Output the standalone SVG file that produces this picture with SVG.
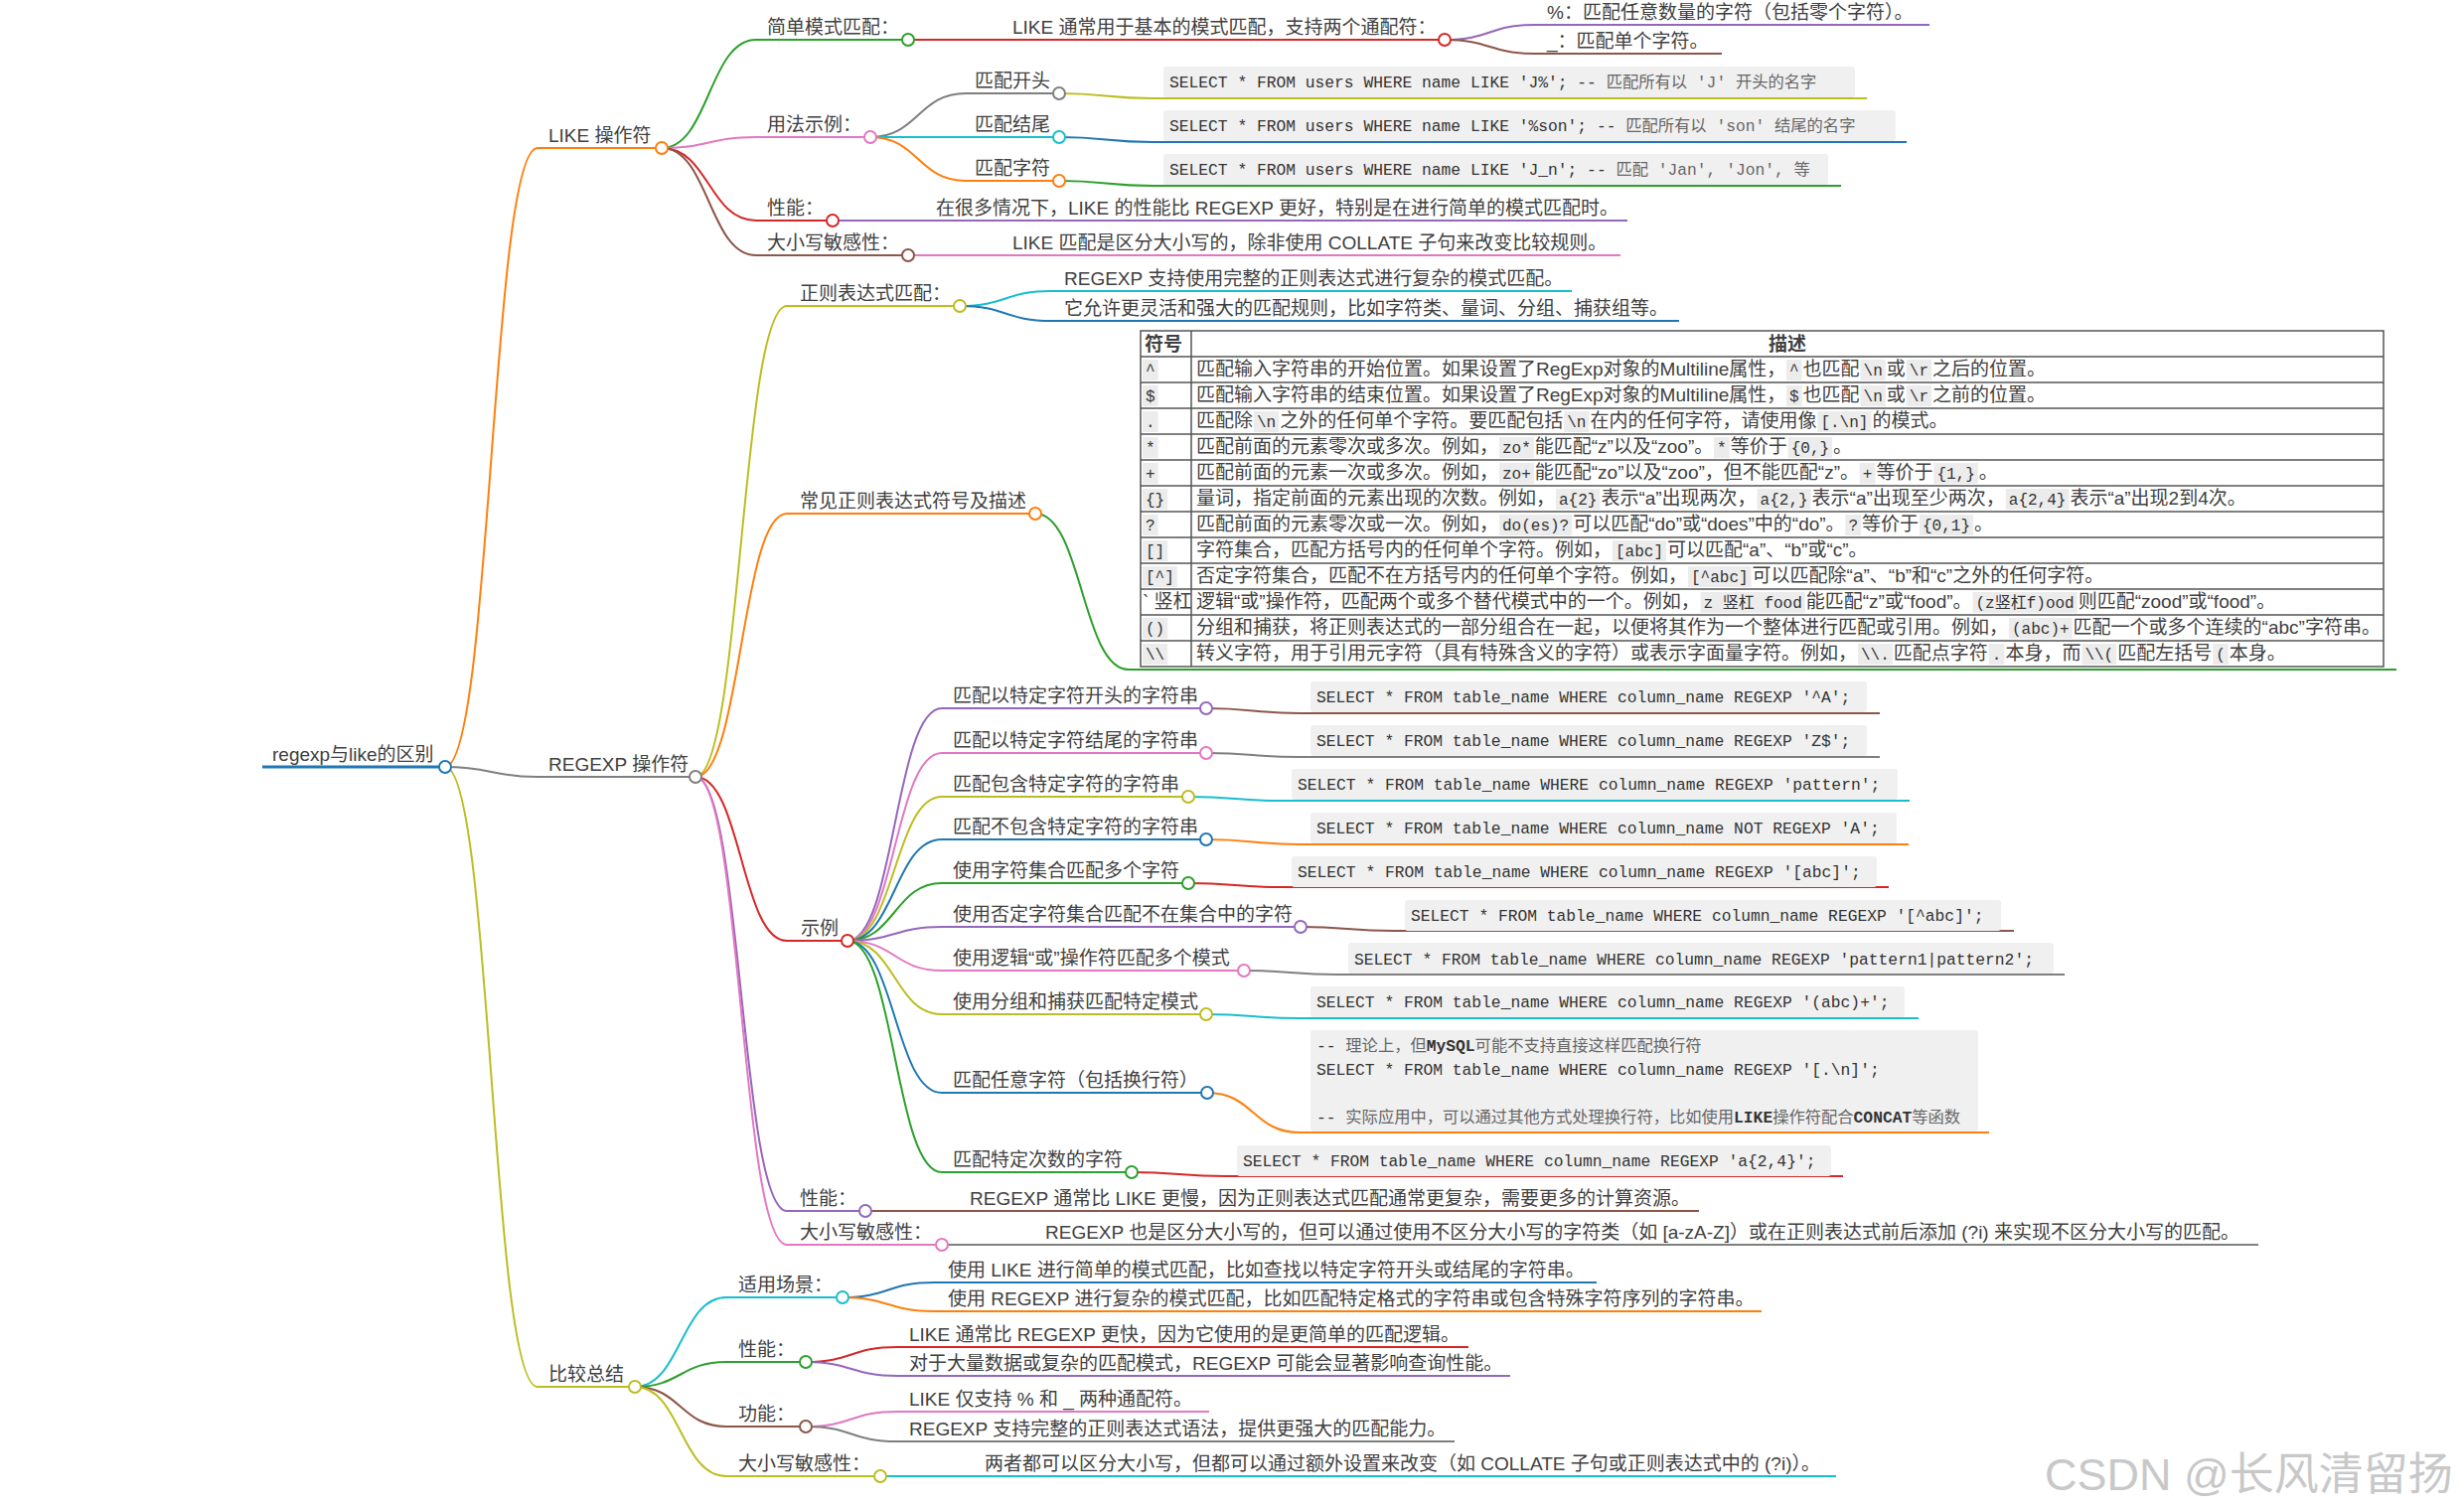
<svg xmlns="http://www.w3.org/2000/svg" width="2480" height="1516" viewBox="0 0 2480 1516">
<style>
.l{fill:none;stroke-width:2}
.b{stroke:#1f77b4}.o{stroke:#ff7f0e}.g{stroke:#2ca02c}.r{stroke:#d62728}.p{stroke:#9467bd}.br{stroke:#8c564b}.pk{stroke:#e377c2}.gy{stroke:#7f7f7f}.ol{stroke:#bcbd22}.cy{stroke:#17becf}
circle{fill:#fff;stroke-width:2}
.t{font-family:"Liberation Sans","Noto Sans CJK SC",sans-serif;font-size:19px;fill:#404040}
.m{font-family:"Liberation Mono","Noto Sans CJK SC",monospace;font-size:16.3px;fill:#333}
.cm{fill:#666}
.bd{font-weight:bold}
.cb{fill:#f0f0f0}
.tc{font-family:"Liberation Mono","Noto Sans CJK SC",monospace;font-size:16px;fill:#333}
.ic{fill:#ececec}
.tb{fill:none;stroke:#555;stroke-width:1.5}
.wm{font-family:"Liberation Sans","Noto Sans CJK SC",sans-serif;font-size:45px;fill:#c8c8c8}
</style>
<g id="connectors">
<path class="l o" d="M448,772C494.5,772 494.5,149 541,149"/>
<path class="l gy" d="M448,772C494.5,772 494.5,782 541,782"/>
<path class="l ol" d="M448,772C494.5,772 494.5,1396 541,1396"/>
<path class="l g" d="M666,149C713.5,149 713.5,40 761,40"/>
<path class="l pk" d="M666,149C713.5,149 713.5,138 761,138"/>
<path class="l r" d="M666,149C713.5,149 713.5,222 761,222"/>
<path class="l br" d="M666,149C713.5,149 713.5,257 761,257"/>
<path class="l r" d="M914,40H1008"/>
<path class="l p" d="M1454,40C1499.5,40 1499.5,25 1545,25"/>
<path class="l br" d="M1454,40C1499.5,40 1499.5,54 1545,54"/>
<path class="l gy" d="M876,138C924,138 924,94 972,94"/>
<path class="l cy" d="M876,138H972"/>
<path class="l o" d="M876,138C924,138 924,182 972,182"/>
<path class="l ol" d="M1066,94C1113,94 1113,99 1160,99"/>
<path class="l b" d="M1066,138C1113,138 1113,143 1160,143"/>
<path class="l g" d="M1066,182C1113,182 1113,187 1160,187"/>
<path class="l p" d="M838,222H931"/>
<path class="l pk" d="M914,257H1008"/>
<path class="l ol" d="M700,782C746,782 746,308 792,308"/>
<path class="l o" d="M700,782C746,782 746,517 792,517"/>
<path class="l r" d="M700,782C746,782 746,947 792,947"/>
<path class="l p" d="M700,782C746,782 746,1219 792,1219"/>
<path class="l pk" d="M700,782C746,782 746,1253 792,1253"/>
<path class="l cy" d="M966,308C1012,308 1012,293 1058,293"/>
<path class="l b" d="M966,308C1012,308 1012,323 1058,323"/>
<path class="l g" d="M1042,517C1089,517 1089,674 1136,674"/>
<path class="l p" d="M853,947C900.5,947 900.5,713 948,713"/>
<path class="l pk" d="M853,947C900.5,947 900.5,758 948,758"/>
<path class="l ol" d="M853,947C900.5,947 900.5,802 948,802"/>
<path class="l b" d="M853,947C900.5,947 900.5,845 948,845"/>
<path class="l g" d="M853,947C900.5,947 900.5,889 948,889"/>
<path class="l p" d="M853,947C900.5,947 900.5,933 948,933"/>
<path class="l pk" d="M853,947C900.5,947 900.5,977 948,977"/>
<path class="l ol" d="M853,947C900.5,947 900.5,1021 948,1021"/>
<path class="l b" d="M853,947C900.5,947 900.5,1100 948,1100"/>
<path class="l g" d="M853,947C900.5,947 900.5,1180 948,1180"/>
<path class="l br" d="M1214,713C1261,713 1261,718 1308,718"/>
<path class="l gy" d="M1214,758C1261,758 1261,762 1308,762"/>
<path class="l cy" d="M1196,802C1243,802 1243,806 1290,806"/>
<path class="l o" d="M1214,845C1261,845 1261,850 1308,850"/>
<path class="l r" d="M1196,889C1243,889 1243,893 1290,893"/>
<path class="l br" d="M1309,933C1356,933 1356,937 1403,937"/>
<path class="l gy" d="M1252,977C1299,977 1299,981 1346,981"/>
<path class="l cy" d="M1214,1021C1261,1021 1261,1025 1308,1025"/>
<path class="l o" d="M1215,1100C1261.5,1100 1261.5,1140 1308,1140"/>
<path class="l r" d="M1139,1180C1186.5,1180 1186.5,1184 1234,1184"/>
<path class="l br" d="M871,1219H965"/>
<path class="l gy" d="M948,1253H1041"/>
<path class="l cy" d="M639,1396C685,1396 685,1306 731,1306"/>
<path class="l g" d="M639,1396C685,1396 685,1371 731,1371"/>
<path class="l br" d="M639,1396C685,1396 685,1436 731,1436"/>
<path class="l ol" d="M639,1396C685,1396 685,1486 731,1486"/>
<path class="l b" d="M848,1306C894,1306 894,1291 940,1291"/>
<path class="l o" d="M848,1306C894,1306 894,1320 940,1320"/>
<path class="l r" d="M811,1371C857,1371 857,1356 903,1356"/>
<path class="l p" d="M811,1371C857,1371 857,1385 903,1385"/>
<path class="l pk" d="M811,1436C857,1436 857,1421 903,1421"/>
<path class="l gy" d="M811,1436C857,1436 857,1451 903,1451"/>
<path class="l cy" d="M886,1486H980"/>
</g>

<g id="n-root"><path class="l b" style="stroke-width:3" d="M264,772H448"/><circle class="b" cx="448" cy="772" r="6"/><text class="t" x="274" y="766">regexp与like的区别</text></g>

<g id="n-like"><path class="l o" d="M541,149H666"/><circle class="o" cx="666" cy="149" r="6"/><text class="t" x="552" y="143">LIKE 操作符</text></g>
<g id="n-like-simple"><path class="l g" d="M761,40H914"/><circle class="g" cx="914" cy="40" r="6"/><text class="t" x="772" y="34">简单模式匹配：</text></g>
<g id="n-like-simple-desc"><path class="l r" d="M1008,40H1454"/><circle class="r" cx="1454" cy="40" r="6"/><text class="t" x="1019" y="34">LIKE 通常用于基本的模式匹配，支持两个通配符：</text></g>
<g id="n-like-pct"><path class="l p" d="M1545,25H1942"/><text class="t" x="1557" y="19">%：匹配任意数量的字符（包括零个字符）。</text></g>
<g id="n-like-us"><path class="l br" d="M1545,54H1733"/><text class="t" x="1557" y="48">_：匹配单个字符。</text></g>
<g id="n-like-usage"><path class="l pk" d="M761,138H876"/><circle class="pk" cx="876" cy="138" r="6"/><text class="t" x="772" y="132">用法示例：</text></g>
<g id="n-like-start"><path class="l gy" d="M972,94H1066"/><circle class="gy" cx="1066" cy="94" r="6"/><text class="t" x="981" y="88">匹配开头</text></g>
<g id="n-like-start-code"><path class="l ol" d="M1160,99H1879"/><rect class="cb" x="1171" y="67" width="696" height="31" rx="3"/><text class="m" x="1177" y="88">SELECT * FROM users WHERE name LIKE 'J%'; -- <tspan class="cm">匹配所有以 'J' 开头的名字</tspan></text></g>
<g id="n-like-end"><path class="l cy" d="M972,138H1066"/><circle class="cy" cx="1066" cy="138" r="6"/><text class="t" x="981" y="132">匹配结尾</text></g>
<g id="n-like-end-code"><path class="l b" d="M1160,143H1919"/><rect class="cb" x="1171" y="111" width="737" height="31" rx="3"/><text class="m" x="1177" y="132">SELECT * FROM users WHERE name LIKE '%son'; -- <tspan class="cm">匹配所有以 'son' 结尾的名字</tspan></text></g>
<g id="n-like-char"><path class="l o" d="M972,182H1066"/><circle class="o" cx="1066" cy="182" r="6"/><text class="t" x="981" y="176">匹配字符</text></g>
<g id="n-like-char-code"><path class="l g" d="M1160,187H1853"/><rect class="cb" x="1171" y="155" width="669" height="31" rx="3"/><text class="m" x="1177" y="176">SELECT * FROM users WHERE name LIKE 'J_n'; -- <tspan class="cm">匹配 'Jan', 'Jon', 等</tspan></text></g>
<g id="n-like-perf"><path class="l r" d="M761,222H838"/><circle class="r" cx="838" cy="222" r="6"/><text class="t" x="772" y="216">性能：</text></g>
<g id="n-like-perf-desc"><path class="l p" d="M931,222H1638"/><text class="t" x="942" y="216">在很多情况下，LIKE 的性能比 REGEXP 更好，特别是在进行简单的模式匹配时。</text></g>
<g id="n-like-case"><path class="l br" d="M761,257H914"/><circle class="br" cx="914" cy="257" r="6"/><text class="t" x="772" y="251">大小写敏感性：</text></g>
<g id="n-like-case-desc"><path class="l pk" d="M1008,257H1631"/><text class="t" x="1019" y="251">LIKE 匹配是区分大小写的，除非使用 COLLATE 子句来改变比较规则。</text></g>

<g id="n-regexp"><path class="l gy" d="M541,782H700"/><circle class="gy" cx="700" cy="782" r="6"/><text class="t" x="552" y="776">REGEXP 操作符</text></g>
<g id="n-re-match"><path class="l ol" d="M792,308H966"/><circle class="ol" cx="966" cy="308" r="6"/><text class="t" x="805" y="302">正则表达式匹配：</text></g>
<g id="n-re-match-1"><path class="l cy" d="M1058,293H1582"/><text class="t" x="1071" y="287">REGEXP 支持使用完整的正则表达式进行复杂的模式匹配。</text></g>
<g id="n-re-match-2"><path class="l b" d="M1058,323H1690"/><text class="t" x="1071" y="317">它允许更灵活和强大的匹配规则，比如字符类、量词、分组、捕获组等。</text></g>
<g id="n-re-sym"><path class="l o" d="M792,517H1042"/><circle class="o" cx="1042" cy="517" r="6"/><text class="t" x="805" y="511">常见正则表达式符号及描述</text></g>

<g id="n-re-table">
<path class="l g" d="M1136,674H2412"/>
<rect x="1148" y="333" width="1251" height="338" fill="#fff"/>
<g class="ic">
<rect x="1150" y="362" width="15.6" height="21"/><rect x="1798" y="362" width="15.6" height="21"/><rect x="1872.6" y="362" width="25.2" height="21"/><rect x="1918.8" y="362" width="25.2" height="21"/>
<rect x="1150" y="388" width="15.6" height="21"/><rect x="1798" y="388" width="15.6" height="21"/><rect x="1872.6" y="388" width="25.2" height="21"/><rect x="1918.8" y="388" width="25.2" height="21"/>
<rect x="1150" y="414" width="15.6" height="21"/><rect x="1262" y="414" width="25.2" height="21"/><rect x="1574.2" y="414" width="25.2" height="21"/><rect x="1829.4" y="414" width="54" height="21"/>
<rect x="1150" y="440" width="15.6" height="21"/><rect x="1509" y="440" width="34.8" height="21"/><rect x="1725.1" y="440" width="15.6" height="21"/><rect x="1799.7" y="440" width="44.4" height="21"/>
<rect x="1150" y="466" width="15.6" height="21"/><rect x="1509" y="466" width="34.8" height="21"/><rect x="1871.8" y="466" width="15.6" height="21"/><rect x="1946.4" y="466" width="44.4" height="21"/>
<rect x="1150" y="492" width="25.2" height="21"/><rect x="1566" y="492" width="44.4" height="21"/><rect x="1768.6" y="492" width="54" height="21"/><rect x="2018.8" y="492" width="63.6" height="21"/>
<rect x="1150" y="518" width="15.6" height="21"/><rect x="1509" y="518" width="73.2" height="21"/><rect x="1857.4" y="518" width="15.6" height="21"/><rect x="1932" y="518" width="54" height="21"/>
<rect x="1150" y="544" width="25.2" height="21"/><rect x="1623" y="544" width="54" height="21"/>
<rect x="1150" y="570" width="34.8" height="21"/><rect x="1699" y="570" width="63.6" height="21"/>
<rect x="1711.6" y="596" width="105.2" height="21"/><rect x="1985.5" y="596" width="105.2" height="21"/>
<rect x="1150" y="622" width="25.2" height="21"/><rect x="2022" y="622" width="63.6" height="21"/>
<rect x="1150" y="648" width="25.2" height="21"/><rect x="1870" y="648" width="34.8" height="21"/><rect x="2001.8" y="648" width="15.6" height="21"/><rect x="2095.4" y="648" width="34.8" height="21"/><rect x="2227.2" y="648" width="15.6" height="21"/>
</g>
<rect class="tb" x="1148" y="333" width="1251" height="338"/>
<path class="tb" d="M1148,359H2399M1148,385H2399M1148,411H2399M1148,437H2399M1148,463H2399M1148,489H2399M1148,515H2399M1148,541H2399M1148,567H2399M1148,593H2399M1148,619H2399M1148,645H2399M1199,333V671"/>
<text class="t bd" x="1152" y="353">符号</text>
<text class="t bd" x="1799" y="353" text-anchor="middle">描述</text>
<text class="t" y="378"><tspan class="tc" x="1153">^</tspan><tspan x="1204">匹配输入字符串的开始位置。如果设置了RegExp对象的Multiline属性，</tspan><tspan class="tc" x="1801">^</tspan><tspan x="1814.6">也匹配</tspan><tspan class="tc" x="1875.6">\n</tspan><tspan x="1898.8">或</tspan><tspan class="tc" x="1921.8">\r</tspan><tspan x="1945">之后的位置。</tspan></text>
<text class="t" y="404"><tspan class="tc" x="1153">$</tspan><tspan x="1204">匹配输入字符串的结束位置。如果设置了RegExp对象的Multiline属性，</tspan><tspan class="tc" x="1801">$</tspan><tspan x="1814.6">也匹配</tspan><tspan class="tc" x="1875.6">\n</tspan><tspan x="1898.8">或</tspan><tspan class="tc" x="1921.8">\r</tspan><tspan x="1945">之前的位置。</tspan></text>
<text class="t" y="430"><tspan class="tc" x="1153">.</tspan><tspan x="1204">匹配除</tspan><tspan class="tc" x="1265">\n</tspan><tspan x="1288.2">之外的任何单个字符。要匹配包括</tspan><tspan class="tc" x="1577.2">\n</tspan><tspan x="1600.4">在内的任何字符，请使用像</tspan><tspan class="tc" x="1832.4">[.\n]</tspan><tspan x="1884.4">的模式。</tspan></text>
<text class="t" y="456"><tspan class="tc" x="1153">*</tspan><tspan x="1204">匹配前面的元素零次或多次。例如，</tspan><tspan class="tc" x="1512">zo*</tspan><tspan x="1544.8">能匹配“z”以及“zoo”。</tspan><tspan class="tc" x="1728.1">*</tspan><tspan x="1741.7">等价于</tspan><tspan class="tc" x="1802.7">{0,}</tspan><tspan x="1845.1">。</tspan></text>
<text class="t" y="482"><tspan class="tc" x="1153">+</tspan><tspan x="1204">匹配前面的元素一次或多次。例如，</tspan><tspan class="tc" x="1512">zo+</tspan><tspan x="1544.8">能匹配“zo”以及“zoo”，但不能匹配“z”。</tspan><tspan class="tc" x="1874.8">+</tspan><tspan x="1888.4">等价于</tspan><tspan class="tc" x="1949.4">{1,}</tspan><tspan x="1991.8">。</tspan></text>
<text class="t" y="508"><tspan class="tc" x="1153">{}</tspan><tspan x="1204">量词，指定前面的元素出现的次数。例如，</tspan><tspan class="tc" x="1569">a{2}</tspan><tspan x="1611.4">表示“a”出现两次，</tspan><tspan class="tc" x="1771.6">a{2,}</tspan><tspan x="1823.6">表示“a”出现至少两次，</tspan><tspan class="tc" x="2021.8">a{2,4}</tspan><tspan x="2083.4">表示“a”出现2到4次。</tspan></text>
<text class="t" y="534"><tspan class="tc" x="1153">?</tspan><tspan x="1204">匹配前面的元素零次或一次。例如，</tspan><tspan class="tc" x="1512">do(es)?</tspan><tspan x="1583.2">可以匹配“do”或“does”中的“do”。</tspan><tspan class="tc" x="1860.4">?</tspan><tspan x="1874">等价于</tspan><tspan class="tc" x="1935">{0,1}</tspan><tspan x="1987">。</tspan></text>
<text class="t" y="560"><tspan class="tc" x="1153">[]</tspan><tspan x="1204">字符集合，匹配方括号内的任何单个字符。例如，</tspan><tspan class="tc" x="1626">[abc]</tspan><tspan x="1678">可以匹配“a”、“b”或“c”。</tspan></text>
<text class="t" y="586"><tspan class="tc" x="1153">[^]</tspan><tspan x="1204">否定字符集合，匹配不在方括号内的任何单个字符。例如，</tspan><tspan class="tc" x="1702">[^abc]</tspan><tspan x="1763.6">可以匹配除“a”、“b”和“c”之外的任何字符。</tspan></text>
<text class="t" y="612"><tspan x="1150">` 竖杠</tspan><tspan x="1204">逻辑“或”操作符，匹配两个或多个替代模式中的一个。例如，</tspan><tspan class="tc" x="1714.6">z 竖杠 food</tspan><tspan x="1817.8">能匹配“z”或“food”。</tspan><tspan class="tc" x="1988.5">(z竖杠f)ood</tspan><tspan x="2091.7">则匹配“zood”或“food”。</tspan></text>
<text class="t" y="638"><tspan class="tc" x="1153">()</tspan><tspan x="1204">分组和捕获，将正则表达式的一部分组合在一起，以便将其作为一个整体进行匹配或引用。例如，</tspan><tspan class="tc" x="2025">(abc)+</tspan><tspan x="2086.6">匹配一个或多个连续的“abc”字符串。</tspan></text>
<text class="t" y="664"><tspan class="tc" x="1153">\\</tspan><tspan x="1204">转义字符，用于引用元字符（具有特殊含义的字符）或表示字面量字符。例如，</tspan><tspan class="tc" x="1873">\\.</tspan><tspan x="1905.8">匹配点字符</tspan><tspan class="tc" x="2004.8">.</tspan><tspan x="2018.4">本身，而</tspan><tspan class="tc" x="2098.4">\\(</tspan><tspan x="2131.2">匹配左括号</tspan><tspan class="tc" x="2230.2">(</tspan><tspan x="2243.8">本身。</tspan></text>
</g>

<g id="n-re-ex"><path class="l r" d="M792,947H853"/><circle class="r" cx="853" cy="947" r="6"/><text class="t" x="806" y="941">示例</text></g>
<g id="n-ex-1"><path class="l p" d="M948,713H1214"/><circle class="p" cx="1214" cy="713" r="6"/><text class="t" x="959" y="707">匹配以特定字符开头的字符串</text></g>
<g id="n-ex-1-code"><path class="l br" d="M1308,718H1892"/><rect class="cb" x="1319" y="686" width="560" height="31" rx="3"/><text class="m" x="1325" y="707">SELECT * FROM table_name WHERE column_name REGEXP '^A';</text></g>
<g id="n-ex-2"><path class="l pk" d="M948,758H1214"/><circle class="pk" cx="1214" cy="758" r="6"/><text class="t" x="959" y="752">匹配以特定字符结尾的字符串</text></g>
<g id="n-ex-2-code"><path class="l gy" d="M1308,762H1892"/><rect class="cb" x="1319" y="730" width="560" height="31" rx="3"/><text class="m" x="1325" y="751">SELECT * FROM table_name WHERE column_name REGEXP 'Z$';</text></g>
<g id="n-ex-3"><path class="l ol" d="M948,802H1196"/><circle class="ol" cx="1196" cy="802" r="6"/><text class="t" x="959" y="796">匹配包含特定字符的字符串</text></g>
<g id="n-ex-3-code"><path class="l cy" d="M1290,806H1922"/><rect class="cb" x="1300" y="774" width="610" height="31" rx="3"/><text class="m" x="1306" y="795">SELECT * FROM table_name WHERE column_name REGEXP 'pattern';</text></g>
<g id="n-ex-4"><path class="l b" d="M948,845H1214"/><circle class="b" cx="1214" cy="845" r="6"/><text class="t" x="959" y="839">匹配不包含特定字符的字符串</text></g>
<g id="n-ex-4-code"><path class="l o" d="M1308,850H1921"/><rect class="cb" x="1319" y="818" width="590" height="31" rx="3"/><text class="m" x="1325" y="839">SELECT * FROM table_name WHERE column_name NOT REGEXP 'A';</text></g>
<g id="n-ex-5"><path class="l g" d="M948,889H1196"/><circle class="g" cx="1196" cy="889" r="6"/><text class="t" x="959" y="883">使用字符集合匹配多个字符</text></g>
<g id="n-ex-5-code"><path class="l r" d="M1290,893H1901"/><rect class="cb" x="1300" y="862" width="589" height="31" rx="3"/><text class="m" x="1306" y="883">SELECT * FROM table_name WHERE column_name REGEXP '[abc]';</text></g>
<g id="n-ex-6"><path class="l p" d="M948,933H1309"/><circle class="p" cx="1309" cy="933" r="6"/><text class="t" x="959" y="927">使用否定字符集合匹配不在集合中的字符</text></g>
<g id="n-ex-6-code"><path class="l br" d="M1403,937H2027"/><rect class="cb" x="1414" y="906" width="600" height="31" rx="3"/><text class="m" x="1420" y="927">SELECT * FROM table_name WHERE column_name REGEXP '[^abc]';</text></g>
<g id="n-ex-7"><path class="l pk" d="M948,977H1252"/><circle class="pk" cx="1252" cy="977" r="6"/><text class="t" x="959" y="971">使用逻辑“或”操作符匹配多个模式</text></g>
<g id="n-ex-7-code"><path class="l gy" d="M1346,981H2078"/><rect class="cb" x="1357" y="949" width="710" height="31" rx="3"/><text class="m" x="1363" y="971">SELECT * FROM table_name WHERE column_name REGEXP 'pattern1|pattern2';</text></g>
<g id="n-ex-8"><path class="l ol" d="M948,1021H1214"/><circle class="ol" cx="1214" cy="1021" r="6"/><text class="t" x="959" y="1015">使用分组和捕获匹配特定模式</text></g>
<g id="n-ex-8-code"><path class="l cy" d="M1308,1025H1931"/><rect class="cb" x="1319" y="993" width="598" height="31" rx="3"/><text class="m" x="1325" y="1014">SELECT * FROM table_name WHERE column_name REGEXP '(abc)+';</text></g>
<g id="n-ex-9"><path class="l b" d="M948,1100H1215"/><circle class="b" cx="1215" cy="1100" r="6"/><text class="t" x="959" y="1094">匹配任意字符（包括换行符）</text></g>
<g id="n-ex-9-code"><path class="l o" d="M1308,1140H2002"/><rect class="cb" x="1319" y="1037" width="672" height="102" rx="3"/>
<text class="m" x="1325" y="1058">-- <tspan class="cm">理论上，但</tspan><tspan class="bd">MySQL</tspan><tspan class="cm">可能不支持直接这样匹配换行符</tspan></text>
<text class="m" x="1325" y="1082">SELECT * FROM table_name WHERE column_name REGEXP '[.\n]';</text>
<text class="m" x="1325" y="1130">-- <tspan class="cm">实际应用中，可以通过其他方式处理换行符，比如使用</tspan><tspan class="bd">LIKE</tspan><tspan class="cm">操作符配合</tspan><tspan class="bd">CONCAT</tspan><tspan class="cm">等函数</tspan></text></g>
<g id="n-ex-10"><path class="l g" d="M948,1180H1139"/><circle class="g" cx="1139" cy="1180" r="6"/><text class="t" x="959" y="1174">匹配特定次数的字符</text></g>
<g id="n-ex-10-code"><path class="l r" d="M1234,1184H1855"/><rect class="cb" x="1245" y="1153" width="598" height="31" rx="3"/><text class="m" x="1251" y="1174">SELECT * FROM table_name WHERE column_name REGEXP 'a{2,4}';</text></g>
<g id="n-re-perf"><path class="l p" d="M792,1219H871"/><circle class="p" cx="871" cy="1219" r="6"/><text class="t" x="805" y="1213">性能：</text></g>
<g id="n-re-perf-desc"><path class="l br" d="M965,1219H1710"/><text class="t" x="976" y="1213">REGEXP 通常比 LIKE 更慢，因为正则表达式匹配通常更复杂，需要更多的计算资源。</text></g>
<g id="n-re-case"><path class="l pk" d="M792,1253H948"/><circle class="pk" cx="948" cy="1253" r="6"/><text class="t" x="805" y="1247">大小写敏感性：</text></g>
<g id="n-re-case-desc"><path class="l gy" d="M1041,1253H2273"/><text class="t" x="1052" y="1247">REGEXP 也是区分大小写的，但可以通过使用不区分大小写的字符类（如 [a-zA-Z]）或在正则表达式前后添加 (?i) 来实现不区分大小写的匹配。</text></g>

<g id="n-cmp"><path class="l ol" d="M541,1396H639"/><circle class="ol" cx="639" cy="1396" r="6"/><text class="t" x="552" y="1390">比较总结</text></g>
<g id="n-cmp-scene"><path class="l cy" d="M731,1306H848"/><circle class="cy" cx="848" cy="1306" r="6"/><text class="t" x="743" y="1300">适用场景：</text></g>
<g id="n-cmp-scene-1"><path class="l b" d="M940,1291H1607"/><text class="t" x="954" y="1285">使用 LIKE 进行简单的模式匹配，比如查找以特定字符开头或结尾的字符串。</text></g>
<g id="n-cmp-scene-2"><path class="l o" d="M940,1320H1773"/><text class="t" x="954" y="1314">使用 REGEXP 进行复杂的模式匹配，比如匹配特定格式的字符串或包含特殊字符序列的字符串。</text></g>
<g id="n-cmp-perf"><path class="l g" d="M731,1371H811"/><circle class="g" cx="811" cy="1371" r="6"/><text class="t" x="743" y="1365">性能：</text></g>
<g id="n-cmp-perf-1"><path class="l r" d="M903,1356H1478"/><text class="t" x="915" y="1350">LIKE 通常比 REGEXP 更快，因为它使用的是更简单的匹配逻辑。</text></g>
<g id="n-cmp-perf-2"><path class="l p" d="M903,1385H1520"/><text class="t" x="915" y="1379">对于大量数据或复杂的匹配模式，REGEXP 可能会显著影响查询性能。</text></g>
<g id="n-cmp-func"><path class="l br" d="M731,1436H811"/><circle class="br" cx="811" cy="1436" r="6"/><text class="t" x="743" y="1430">功能：</text></g>
<g id="n-cmp-func-1"><path class="l pk" d="M903,1421H1217"/><text class="t" x="915" y="1415">LIKE 仅支持 % 和 _ 两种通配符。</text></g>
<g id="n-cmp-func-2"><path class="l gy" d="M903,1451H1464"/><text class="t" x="915" y="1445">REGEXP 支持完整的正则表达式语法，提供更强大的匹配能力。</text></g>
<g id="n-cmp-case"><path class="l ol" d="M731,1486H886"/><circle class="ol" cx="886" cy="1486" r="6"/><text class="t" x="743" y="1480">大小写敏感性：</text></g>
<g id="n-cmp-case-1"><path class="l cy" d="M980,1486H1848"/><text class="t" x="991" y="1480">两者都可以区分大小写，但都可以通过额外设置来改变（如 COLLATE 子句或正则表达式中的 (?i)）。</text></g>

<text class="wm" x="2058" y="1500">CSDN @长风清留扬</text>
</svg>
